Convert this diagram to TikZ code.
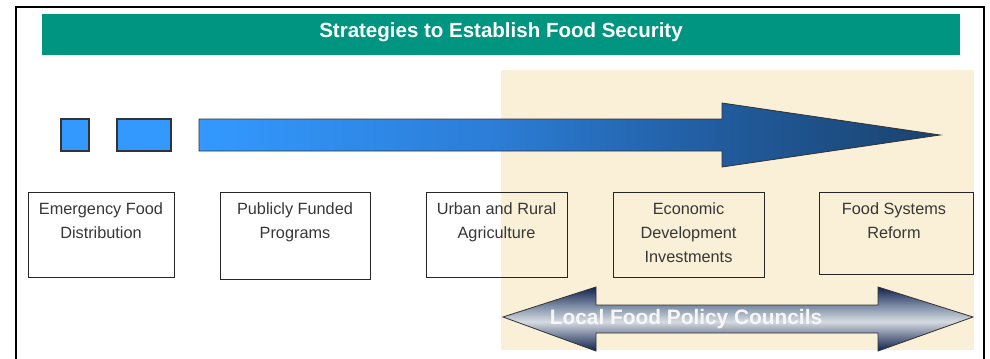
\documentclass[tikz,border=0pt]{standalone}
\usepackage{fontspec}
\setmainfont{Liberation Sans}

\definecolor{bannergreen}{RGB}{0,149,128}
\definecolor{councilbg}{RGB}{250,240,216}
\definecolor{boxtext}{RGB}{55,55,55}

\pgfdeclarehorizontalshading{bluebar}{100bp}{rgb(0bp)=(0.2,0.6,1); rgb(25bp)=(0.2,0.6,1);
    rgb(45bp)=(0.17,0.49,0.84); rgb(60bp)=(0.13,0.36,0.62); rgb(75bp)=(0.1,0.26,0.43);
    rgb(100bp)=(0.1,0.26,0.43)}
\pgfdeclareverticalshading{councilbar}{100bp}{rgb(0bp)=(0.07,0.13,0.3); rgb(25bp)=(0.07,0.13,0.3);
    rgb(37bp)=(0.45,0.5,0.6); rgb(48bp)=(0.84,0.86,0.88); rgb(60bp)=(0.5,0.56,0.66);
    rgb(75bp)=(0.07,0.13,0.3); rgb(100bp)=(0.07,0.13,0.3)}

\begin{document}
\begin{tikzpicture}[x=0.03cm, y=-0.03cm]
    \tikzstyle{box}=[draw=black!85, line width=0.7pt]
    \tikzstyle{boxlabel}=[anchor=north, align=center, inner sep=0pt, text=boxtext,
        font=\fontsize{13.9}{20.5}\selectfont]
    \tikzstyle{outline}=[draw=black!80, line width=0.7pt]

    \useasboundingbox (0,0) rectangle (990,358);

    % backgrounds
    \fill [councilbg] (501,70) rectangle (974,350);
    \fill [bannergreen] (42,14) rectangle (960,55);
    \node (title) at (501,37.5) [anchor=base, text=white, inner sep=0pt,
        font=\fontsize{17.5}{21}\selectfont\bfseries] {Strategies to Establish Food Security};

    % dashes and the big arrow
    \fill [color={rgb,1:red,0.2;green,0.6;blue,1}, outline, line width=1pt] (61,119) rectangle (89,151);
    \fill [color={rgb,1:red,0.2;green,0.6;blue,1}, outline, line width=1pt] (117,119) rectangle (171,151);
    \shadedraw [shading=bluebar, outline] (199,119) -- (722,119) -- (722,103) -- (940,135)
        -- (722,167) -- (722,151) -- (199,151) -- cycle;

    % strategy boxes
    \draw [box] (28,192) rectangle (174,277);
    \node (emergency) at (101,202.5) [boxlabel] {Emergency Food\\Distribution};
    \draw [box] (220,192) rectangle (370,279);
    \node (funded) at (295,202.5) [boxlabel] {Publicly Funded\\Programs};
    \draw [box] (426,192) rectangle (567,277);
    \node (agri) at (496.5,202.5) [boxlabel] {Urban and Rural\\Agriculture};
    \draw [box] (613,192) rectangle (764,277);
    \node (econ) at (688.5,202.5) [boxlabel] {Economic\\Development\\Investments};
    \draw [box] (819,192) rectangle (973,274);
    \node (reform) at (894,202.5) [boxlabel] {Food Systems\\Reform};

    % councils double arrow
    \shadedraw [shading=councilbar, outline] (503,317) -- (596,287) -- (596,305) -- (878,305)
        -- (878,287) -- (973,317) -- (878,351) -- (878,333) -- (596,333) -- (596,351) -- cycle;
    \node (councils) at (686,324) [anchor=base, inner sep=0pt, text=white!94!gray,
        font=\fontsize{17.8}{21}\selectfont\bfseries] {Local Food Policy Councils};

    % frame
    \draw [line width=1.7pt] (16,362) -- (16,7) -- (984,7) -- (984,362);
\end{tikzpicture}
\end{document}
